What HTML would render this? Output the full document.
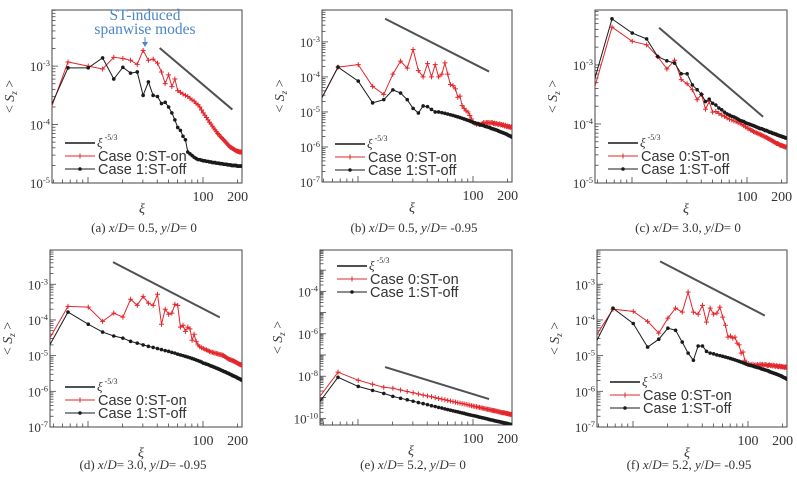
<!DOCTYPE html>
<html><head><meta charset="utf-8">
<style>
html,body{margin:0;padding:0;background:#fff;}
svg{display:block;}
</style></head>
<body>
<svg id="fig" width="797" height="481" viewBox="0 0 797 481" xmlns="http://www.w3.org/2000/svg"></svg>
<script>
// sample spacing of the wavenumber axis (xi = k * dXi, k = 1..65)
const dXi = 3.35;
const refSlope = -5/3;
// log10 <S_z> values, k = 1..65
const A_RED=[-4.55,-2.93,-3.0,-3.05,-2.85,-2.87,-2.9,-2.97,-2.73,-2.9,-2.88,-2.95,-3.1,-3.3,-3.15,-3.35,-3.22,-3.42,-3.45,-3.48,-3.5,-3.52,-3.55,-3.58,-3.6,-3.64,-3.66,-3.7,-3.75,-3.8,-3.84,-3.88,-3.92,-3.96,-3.99,-4.03,-4.06,-4.09,-4.12,-4.15,-4.17,-4.2,-4.22,-4.24,-4.26,-4.28,-4.3,-4.32,-4.34,-4.36,-4.38,-4.39,-4.4,-4.41,-4.42,-4.43,-4.44,-4.45,-4.45,-4.46,-4.46,-4.47,-4.47,-4.47,-4.48];
const A_BLK=[-4.36,-3.03,-3.03,-2.86,-3.22,-3.02,-3.12,-3.1,-3.5,-3.27,-3.5,-3.52,-3.64,-3.62,-3.7,-3.8,-3.92,-4.05,-4.1,-4.2,-4.26,-4.47,-4.5,-4.53,-4.56,-4.58,-4.6,-4.6,-4.61,-4.62,-4.62,-4.63,-4.63,-4.64,-4.64,-4.65,-4.65,-4.65,-4.66,-4.66,-4.66,-4.67,-4.67,-4.67,-4.68,-4.68,-4.68,-4.68,-4.69,-4.69,-4.69,-4.69,-4.7,-4.7,-4.7,-4.7,-4.7,-4.7,-4.71,-4.71,-4.71,-4.71,-4.71,-4.71,-4.71];
const B_RED=[-5.6,-3.72,-3.65,-4.27,-4.5,-3.92,-3.55,-3.75,-3.22,-3.82,-4.0,-3.62,-4.0,-3.65,-4.0,-3.92,-3.6,-3.92,-4.22,-4.25,-4.34,-4.58,-4.55,-4.82,-4.9,-4.97,-5.0,-5.1,-5.2,-5.3,-5.33,-5.35,-5.34,-5.36,-5.35,-5.33,-5.3,-5.32,-5.3,-5.31,-5.3,-5.32,-5.3,-5.31,-5.33,-5.32,-5.34,-5.33,-5.35,-5.36,-5.34,-5.37,-5.36,-5.38,-5.37,-5.4,-5.38,-5.41,-5.42,-5.4,-5.43,-5.42,-5.44,-5.43,-5.45];
const B_BLK=[-5.6,-3.72,-4.12,-4.74,-4.65,-4.37,-4.46,-4.65,-4.9,-5.03,-4.83,-4.85,-4.93,-5.0,-5.0,-5.02,-5.04,-5.06,-5.08,-5.1,-5.12,-5.14,-5.16,-5.18,-5.2,-5.22,-5.24,-5.26,-5.28,-5.3,-5.31,-5.33,-5.34,-5.36,-5.37,-5.38,-5.39,-5.41,-5.42,-5.43,-5.44,-5.45,-5.47,-5.48,-5.49,-5.5,-5.51,-5.52,-5.53,-5.55,-5.56,-5.57,-5.58,-5.59,-5.6,-5.61,-5.62,-5.63,-5.64,-5.66,-5.67,-5.68,-5.69,-5.7,-5.72];
const C_RED=[-4.4,-2.36,-2.6,-2.66,-2.86,-3.07,-2.92,-3.25,-3.32,-3.42,-3.59,-3.5,-3.75,-3.62,-3.8,-3.79,-3.82,-3.85,-3.87,-3.9,-3.92,-3.93,-3.95,-3.96,-3.98,-3.99,-4.01,-4.03,-4.05,-4.07,-4.08,-4.1,-4.11,-4.13,-4.14,-4.15,-4.16,-4.17,-4.18,-4.19,-4.2,-4.21,-4.22,-4.23,-4.24,-4.25,-4.26,-4.27,-4.28,-4.29,-4.3,-4.31,-4.32,-4.33,-4.33,-4.34,-4.35,-4.36,-4.36,-4.37,-4.37,-4.38,-4.38,-4.39,-4.39];
const C_BLK=[-4.26,-2.22,-2.46,-2.56,-2.86,-2.93,-2.97,-3.15,-3.15,-3.34,-3.42,-3.5,-3.62,-3.58,-3.65,-3.68,-3.73,-3.76,-3.8,-3.83,-3.85,-3.87,-3.88,-3.9,-3.92,-3.94,-3.95,-3.96,-3.98,-3.99,-4.0,-4.01,-4.02,-4.03,-4.04,-4.05,-4.06,-4.07,-4.08,-4.08,-4.09,-4.1,-4.11,-4.11,-4.12,-4.13,-4.14,-4.14,-4.15,-4.16,-4.16,-4.17,-4.17,-4.18,-4.19,-4.19,-4.2,-4.2,-4.21,-4.21,-4.22,-4.22,-4.23,-4.23,-4.24];
const D_RED=[-5.31,-3.62,-3.64,-4.04,-3.81,-3.92,-3.42,-3.59,-3.34,-3.53,-3.59,-3.28,-4.12,-3.7,-3.84,-3.81,-3.56,-3.59,-4.2,-4.15,-4.32,-4.2,-4.25,-4.57,-4.4,-4.6,-4.7,-4.75,-4.78,-4.8,-4.82,-4.84,-4.86,-4.88,-4.9,-4.91,-4.92,-4.93,-4.94,-4.95,-4.96,-4.97,-4.98,-4.99,-5.0,-5.02,-5.04,-5.06,-5.08,-5.1,-5.11,-5.12,-5.13,-5.14,-5.15,-5.16,-5.18,-5.19,-5.2,-5.22,-5.23,-5.24,-5.25,-5.26,-5.27];
const D_BLK=[-5.53,-3.78,-4.12,-4.34,-4.45,-4.51,-4.6,-4.65,-4.7,-4.74,-4.77,-4.8,-4.83,-4.86,-4.88,-4.91,-4.93,-4.96,-4.98,-5.0,-5.02,-5.04,-5.06,-5.08,-5.1,-5.12,-5.14,-5.16,-5.18,-5.21,-5.22,-5.24,-5.25,-5.27,-5.29,-5.3,-5.32,-5.33,-5.35,-5.36,-5.38,-5.39,-5.41,-5.42,-5.44,-5.45,-5.46,-5.48,-5.49,-5.5,-5.52,-5.53,-5.54,-5.56,-5.57,-5.58,-5.59,-5.6,-5.62,-5.63,-5.64,-5.65,-5.66,-5.68,-5.69];
const E_RED=[-10.0,-7.81,-8.19,-8.38,-8.52,-8.57,-8.65,-8.72,-8.78,-8.84,-8.89,-8.93,-8.97,-9.01,-9.05,-9.08,-9.11,-9.14,-9.17,-9.2,-9.22,-9.25,-9.27,-9.29,-9.31,-9.33,-9.35,-9.37,-9.39,-9.41,-9.42,-9.44,-9.46,-9.47,-9.49,-9.5,-9.52,-9.53,-9.55,-9.56,-9.57,-9.58,-9.6,-9.61,-9.62,-9.63,-9.64,-9.65,-9.66,-9.68,-9.69,-9.7,-9.71,-9.72,-9.72,-9.73,-9.74,-9.75,-9.76,-9.77,-9.78,-9.79,-9.8,-9.8,-9.81];
const E_BLK=[-10.24,-8.05,-8.48,-8.67,-8.81,-8.95,-9.04,-9.11,-9.18,-9.24,-9.29,-9.34,-9.39,-9.43,-9.47,-9.5,-9.54,-9.57,-9.6,-9.63,-9.66,-9.68,-9.71,-9.73,-9.75,-9.78,-9.8,-9.82,-9.84,-9.86,-9.87,-9.89,-9.91,-9.93,-9.94,-9.96,-9.97,-9.99,-10.0,-10.02,-10.03,-10.05,-10.06,-10.07,-10.08,-10.1,-10.11,-10.12,-10.13,-10.14,-10.15,-10.16,-10.17,-10.18,-10.19,-10.2,-10.21,-10.22,-10.23,-10.24,-10.25,-10.26,-10.27,-10.28,-10.29];
const F_RED=[-5.22,-3.7,-3.76,-4.04,-4.37,-3.95,-3.67,-3.78,-3.22,-3.78,-3.84,-3.59,-4.06,-3.67,-3.84,-3.81,-3.64,-3.92,-4.15,-4.48,-4.45,-4.51,-4.48,-4.65,-4.7,-4.93,-4.9,-5.13,-5.22,-5.22,-5.25,-5.26,-5.24,-5.27,-5.26,-5.25,-5.27,-5.24,-5.26,-5.25,-5.27,-5.25,-5.26,-5.28,-5.27,-5.26,-5.28,-5.27,-5.29,-5.27,-5.29,-5.3,-5.28,-5.3,-5.31,-5.29,-5.31,-5.3,-5.32,-5.31,-5.32,-5.33,-5.31,-5.33,-5.33];
const F_BLK=[-5.61,-3.67,-4.1,-4.76,-4.54,-4.23,-4.29,-4.62,-4.93,-5.13,-4.73,-4.73,-4.88,-4.93,-4.95,-4.98,-5.0,-5.02,-5.04,-5.06,-5.08,-5.1,-5.12,-5.14,-5.16,-5.18,-5.2,-5.22,-5.24,-5.26,-5.27,-5.28,-5.29,-5.31,-5.32,-5.33,-5.34,-5.35,-5.37,-5.38,-5.39,-5.4,-5.41,-5.42,-5.43,-5.45,-5.46,-5.47,-5.48,-5.49,-5.5,-5.51,-5.52,-5.53,-5.54,-5.55,-5.56,-5.57,-5.58,-5.6,-5.61,-5.62,-5.63,-5.64,-5.66];
// reference line: [xi start, xi end], log10 value at start
const REF_XI=[[42,180],[17.2,138],[17.2,138],[16.5,140],[17.2,138],[17.2,140]];
const REF_Y0=[-2.69,-2.34,-2.37,-2.38,-7.57,-2.36];
const Y_MAJOR=[[-5,-4,-3],[-7,-6,-5,-4,-3],[-5,-4,-3],[-7,-6,-5,-4,-3],[-10,-8,-6,-4],[-7,-6,-5,-4,-3]];
const X_LABELS=[100,200];
const CAPTIONS=[["(a)","0.5","0"],["(b)","0.5","-0.95"],["(c)","3.0","0"],["(d)","3.0","-0.95"],["(e)","5.2","0"],["(f)","5.2","-0.95"]];
const REDS=[A_RED,B_RED,C_RED,D_RED,E_RED,F_RED];
const BLKS=[A_BLK,B_BLK,C_BLK,D_BLK,E_BLK,F_BLK];

// layout (pixels)
const P=[
 {L:52,R:242,T:10,B:183,x100:203,y0:-5,y1:-2.04,lg:[65,143]},
 {L:322,R:512,T:10,B:182,x100:473,y0:-7,y1:-2.09,lg:[335,144]},
 {L:595,R:787,T:10,B:183,x100:747,y0:-5,y1:-2.07,lg:[608,143]},
 {L:50,R:242,T:250,B:427,x100:203,y0:-7,y1:-2.04,lg:[65,387]},
 {L:320,R:512,T:250,B:425,x100:473,y0:-10.3,y1:-2.05,lg:[337,266]},
 {L:597,R:787,T:250,B:427,x100:748,y0:-7,y1:-2.04,lg:[610,382]}
];
const DEC=115;
const NS="http://www.w3.org/2000/svg";
const svg=document.getElementById('fig');
function mk(tag,attrs,parent){const e=document.createElementNS(NS,tag);for(const k in attrs)e.setAttribute(k,attrs[k]);(parent||svg).appendChild(e);return e;}
const RED="#e3262b", BLK="#1a1a1a", GRAY="#505050";

P.forEach((p,i)=>{
  const xs=v=>p.x100+DEC*(Math.log10(v)-2);
  const ys=lv=>p.B-(lv-p.y0)/(p.y1-p.y0)*(p.B-p.T);
  const g=mk('g',{});
  
  
  const cid='clip'+i;
  const cp=mk('clipPath',{id:cid},g);mk('rect',{x:p.L,y:p.T,width:p.R-p.L,height:p.B-p.T},cp);
  const fr=mk('rect',{x:p.L,y:p.T,width:p.R-p.L,height:p.B-p.T,fill:'none',stroke:'#444','stroke-width':1},g);
  
  
  const lo=Math.floor(p.y0), hi=Math.ceil(p.y1);
  for(let d=lo; d<hi; d++){
    for(let m=1;m<10;m++){
      const lv=d+Math.log10(m); if(lv<p.y0-1e-6||lv>p.y1) continue;
      const y=ys(lv); const len=m===1?6:3.5;
      mk('line',{x1:p.L,x2:p.L+len,y1:y,y2:y,stroke:'#444','stroke-width':0.8},g);
    }
  }
  Y_MAJOR[i].forEach(e=>{
    const t=mk('text',{x:p.L-2,y:ys(e)+5,'text-anchor':'end','font-family':'Liberation Serif, serif','font-size':13,fill:'#333'},g);
    
    
    t.textContent='10';
    const s=mk('tspan',{dy:-5,'font-size':8.5},t); s.textContent=String(e);
  });
  [5,6,7,8,9,10,20,30,40,50,60,70,80,90,100,200].forEach(v=>{
    const x=xs(v); if(x<p.L||x>p.R) return;
    const len=(v===10||v===100)?6:3.5;
    mk('line',{x1:x,x2:x,y1:p.B,y2:p.B-len,stroke:'#444','stroke-width':0.8},g);
  });
  X_LABELS.forEach(v=>{
    const t=mk('text',{x:xs(v),y:p.B+18,'text-anchor':'middle','font-family':'Liberation Serif, serif','font-size':14,fill:'#333'},g);
    
    
    t.textContent=String(v);
  });
  const cx=(p.L+p.R)/2-5, my=(p.T+p.B)/2;
  const xt=mk('text',{x:cx,y:p.B+30,'text-anchor':'middle','font-family':'Liberation Serif, serif','font-style':'italic','font-size':14,fill:'#333'},g);
  
  
  xt.textContent='ξ';
  const yt=mk('text',{x:0,y:0,transform:`translate(${p.L-38},${my}) rotate(-90)`,'text-anchor':'middle','font-family':'Liberation Serif, serif','font-size':14,fill:'#333'},g);
  
  
  yt.innerHTML='&lt; <tspan font-style="italic">S</tspan><tspan font-size="9" dy="3" font-style="italic">z</tspan><tspan dy="-3"> &gt;</tspan>';
  const c=CAPTIONS[i];
  const ct=mk('text',{x:cx+2,y:i<3?232:469,'text-anchor':'middle','font-family':'Liberation Serif, serif','font-size':13,fill:'#333'},g);
  
  
  ct.innerHTML=`${c[0]}  <tspan font-style="italic">x</tspan>/<tspan font-style="italic">D</tspan>= ${c[1]}, <tspan font-style="italic">y</tspan>/<tspan font-style="italic">D</tspan>= ${c[2]}`;
  const dg=mk('g',{'clip-path':`url(#${cid})`},g);
  const r=REF_XI[i];
  const rl=mk('line',{x1:xs(r[0]),y1:ys(REF_Y0[i]),x2:xs(r[1]),y2:ys(REF_Y0[i]+refSlope*Math.log10(r[1]/r[0])),stroke:GRAY,'stroke-width':2},g);
  
  
  function series(vals,col,kind,name){
    const pts=vals.map((v,k)=>[xs((k+1)*dXi),ys(v)]);
    const pl=mk('polyline',{points:pts.map(q=>q[0].toFixed(1)+','+q[1].toFixed(1)).join(' '),fill:'none',stroke:col,'stroke-width':1},dg);
    
    
    pts.forEach(q=>{
      if(q[0]<p.L) return;
      let m;
      if(kind==='plus'){m=mk('path',{d:`M${q[0]-2.5},${q[1]}h5M${q[0]},${q[1]-2.5}v5`,stroke:col,'stroke-width':1},dg);}
      else {m=mk('circle',{cx:q[0],cy:q[1],r:1.8,fill:col},dg);}
      
      
    });
  }
  series(REDS[i],RED,'plus','case0-st-on');
  series(BLKS[i],BLK,'dot','case1-st-off');
  const [lx,ly]=p.lg;
  const lgd=mk('g',{},g);
  
  
  mk('line',{x1:lx,x2:lx+30,y1:ly,y2:ly,stroke:GRAY,'stroke-width':2},lgd);
  const t0=mk('text',{x:lx+32,y:ly+4,'font-family':'Liberation Serif, serif','font-size':13,fill:'#333'},lgd);
  
  
  t0.innerHTML='<tspan font-style="italic">ξ</tspan><tspan font-size="8" dy="-7"> -5/3</tspan>';
  mk('line',{x1:lx,x2:lx+30,y1:ly+13,y2:ly+13,stroke:RED,'stroke-width':1},lgd);
  mk('path',{d:`M${lx+12.5},${ly+13}h5M${lx+15},${ly+10.5}v5`,stroke:RED,'stroke-width':1},lgd);
  const t1=mk('text',{x:lx+33,y:ly+18,'font-family':'Liberation Sans, sans-serif','font-size':14.5,fill:'#333'},lgd);
  
  
  t1.textContent='Case 0:ST-on';
  mk('line',{x1:lx,x2:lx+30,y1:ly+26,y2:ly+26,stroke:BLK,'stroke-width':1},lgd);
  mk('circle',{cx:lx+15,cy:ly+26,r:1.8,fill:BLK},lgd);
  const t2=mk('text',{x:lx+33,y:ly+31,'font-family':'Liberation Sans, sans-serif','font-size':14.5,fill:'#333'},lgd);
  
  
  t2.textContent='Case 1:ST-off';
});
const an=mk('g',{});


mk('text',{x:145,y:20,'text-anchor':'middle','font-family':'Liberation Serif, serif','font-size':15.5,fill:'#4a86c8'},an).textContent='ST-induced';
mk('text',{x:145,y:34,'text-anchor':'middle','font-family':'Liberation Serif, serif','font-size':15.5,fill:'#4a86c8'},an).textContent='spanwise modes';
mk('line',{x1:145,x2:145,y1:37,y2:45,stroke:'#4a86c8','stroke-width':1},an);
mk('path',{d:'M142,42L145,47L148,42Z',fill:'#4a86c8'},an);
</script>
</body></html>
